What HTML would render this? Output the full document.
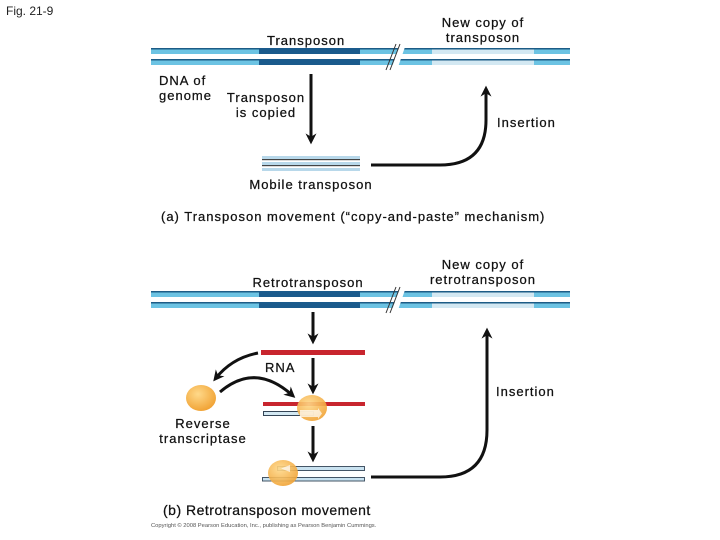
<!DOCTYPE html>
<html><head><style>
body{margin:0;background:#fff;}
svg{display:block;font-family:"Liberation Sans",Arial,sans-serif;}
svg text{letter-spacing:1px;stroke:#111;stroke-width:0.25px;}
</style></head><body>
<svg width="720" height="540" viewBox="0 0 720 540" xmlns="http://www.w3.org/2000/svg">
<defs>
<marker id="ah2" viewBox="0 0 10 10" markerWidth="11" markerHeight="11" refX="6" refY="5" orient="auto" markerUnits="userSpaceOnUse"><path d="M0,0 L10,5 L0,10 L3,5 Z" fill="#111"/></marker>
<radialGradient id="og" cx="40%" cy="35%" r="70%"><stop offset="0" stop-color="#ffd98a"/><stop offset="1" stop-color="#f0a030"/></radialGradient>
</defs>
<text x="6" y="15" font-size="12" fill="#222" style="letter-spacing:0;stroke:none">Fig. 21-9</text>

<!-- Part A DNA -->
<g>
<rect x="151" y="48" width="419" height="6" fill="#6cc3e3"/>
<rect x="151" y="48" width="419" height="1.5" fill="#1d5c86"/>
<rect x="151" y="59" width="419" height="6" fill="#6cc3e3"/>
<rect x="151" y="59" width="419" height="1.5" fill="#1d5c86"/>
<rect x="259" y="48" width="101" height="6" fill="#1a5a8c"/>
<rect x="259" y="59" width="101" height="6" fill="#1a5a8c"/>
<rect x="432" y="49.5" width="102" height="4.5" fill="#d3e8f2"/>
<rect x="432" y="60.5" width="102" height="4.5" fill="#d3e8f2"/>
<polygon points="391,70 397,70 406,44 400,44" fill="#fff"/>
<line x1="386" y1="70" x2="396" y2="44" stroke="#333" stroke-width="1"/>
<line x1="390" y1="70" x2="400" y2="44" stroke="#333" stroke-width="1"/>
</g>
<text x="267" y="45" font-size="13" fill="#111">Transposon</text>
<text x="483" y="27" font-size="13" fill="#111" text-anchor="middle">New copy of</text>
<text x="483" y="42" font-size="13" fill="#111" text-anchor="middle">transposon</text>
<text x="159" y="85" font-size="13" fill="#111">DNA of</text>
<text x="159" y="100" font-size="13" fill="#111">genome</text>
<text x="266" y="102" font-size="13" fill="#111" text-anchor="middle">Transposon</text>
<text x="266" y="117" font-size="13" fill="#111" text-anchor="middle">is copied</text>
<line x1="311" y1="74" x2="311" y2="140" stroke="#111" stroke-width="3" marker-end="url(#ah2)"/>
<rect x="262" y="156" width="98" height="3" fill="#b8d8ea"/>
<rect x="262" y="159" width="98" height="1.2" fill="#444"/>
<rect x="262" y="162" width="98" height="3" fill="#b8d8ea"/>
<rect x="262" y="165" width="98" height="1.2" fill="#444"/>
<rect x="262" y="168" width="98" height="3" fill="#b8d8ea"/>
<path d="M371,165 L440,165 Q486,165 486,120 L486,90" fill="none" stroke="#111" stroke-width="3" marker-end="url(#ah2)"/>
<text x="497" y="127" font-size="13" fill="#111">Insertion</text>
<text x="311" y="189" font-size="13" fill="#111" text-anchor="middle">Mobile transposon</text>
<text x="161" y="221" font-size="13" fill="#111">(a) Transposon movement (“copy-and-paste” mechanism)</text>

<!-- Part B DNA -->
<g>
<rect x="151" y="291" width="419" height="6" fill="#6cc3e3"/>
<rect x="151" y="291" width="419" height="1.5" fill="#1d5c86"/>
<rect x="151" y="302" width="419" height="6" fill="#6cc3e3"/>
<rect x="151" y="302" width="419" height="1.5" fill="#1d5c86"/>
<rect x="259" y="291" width="101" height="6" fill="#1a5a8c"/>
<rect x="259" y="302" width="101" height="6" fill="#1a5a8c"/>
<rect x="432" y="292.5" width="102" height="4.5" fill="#d3e8f2"/>
<rect x="432" y="303.5" width="102" height="4.5" fill="#d3e8f2"/>
<polygon points="391,313 397,313 406,287 400,287" fill="#fff"/>
<line x1="386" y1="313" x2="396" y2="287" stroke="#333" stroke-width="1"/>
<line x1="390" y1="313" x2="400" y2="287" stroke="#333" stroke-width="1"/>
</g>
<text x="308" y="287" font-size="13" fill="#111" text-anchor="middle">Retrotransposon</text>
<text x="483" y="269" font-size="13" fill="#111" text-anchor="middle">New copy of</text>
<text x="483" y="284" font-size="13" fill="#111" text-anchor="middle">retrotransposon</text>

<line x1="313" y1="312" x2="313" y2="340" stroke="#111" stroke-width="3" marker-end="url(#ah2)"/>
<rect x="261" y="350" width="104" height="5" fill="#c8252e"/>
<text x="265" y="372" font-size="13" fill="#111">RNA</text>
<line x1="313" y1="358" x2="313" y2="390" stroke="#111" stroke-width="3" marker-end="url(#ah2)"/>
<path d="M258,353 Q232,358 216,378" fill="none" stroke="#111" stroke-width="3" marker-end="url(#ah2)"/>
<path d="M220,392 Q255,362 292,395" fill="none" stroke="#111" stroke-width="3" marker-end="url(#ah2)"/>
<ellipse cx="201" cy="398" rx="15" ry="13" fill="url(#og)"/>
<text x="203" y="428" font-size="13" fill="#111" text-anchor="middle">Reverse</text>
<text x="203" y="443" font-size="13" fill="#111" text-anchor="middle">transcriptase</text>

<rect x="263" y="402" width="102" height="4" fill="#c8252e"/>
<rect x="263.5" y="411.5" width="50" height="4" fill="#d3e8f2" stroke="#345" stroke-width="1"/>
<ellipse cx="312" cy="408" rx="15" ry="13" fill="url(#og)" opacity="0.9"/>
<polygon points="300,410 318,410 318,408 322,413.5 318,419 318,417 300,417" fill="#fff" opacity="0.7"/>
<line x1="313" y1="426" x2="313" y2="458" stroke="#111" stroke-width="3" marker-end="url(#ah2)"/>

<rect x="277.5" y="466.5" width="87" height="4" fill="#c9e2f0" stroke="#456" stroke-width="1"/>
<rect x="262.5" y="477.5" width="102" height="3.5" fill="#c9e2f0" stroke="#456" stroke-width="1"/>
<ellipse cx="283" cy="473" rx="15" ry="13" fill="url(#og)" opacity="0.9"/>
<polygon points="290,465 281,468.5 290,472" fill="#fff" opacity="0.7"/>
<path d="M371,477 L440,477 Q487,477 487,430 L487,332" fill="none" stroke="#111" stroke-width="3" marker-end="url(#ah2)"/>
<text x="496" y="396" font-size="13" fill="#111">Insertion</text>
<text x="163" y="515" font-size="14" fill="#111" style="letter-spacing:0.5px">(b) Retrotransposon movement</text>
<text x="151" y="527" font-size="5.8" fill="#555" style="letter-spacing:0;stroke:none">Copyright © 2008 Pearson Education, Inc., publishing as Pearson Benjamin Cummings.</text>
</svg>
</body></html>
